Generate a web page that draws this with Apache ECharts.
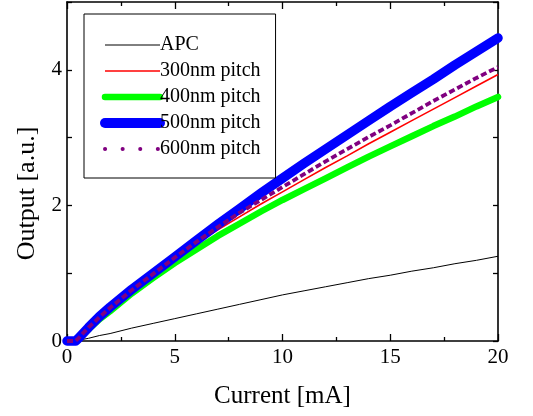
<!DOCTYPE html>
<html>
<head>
<meta charset="utf-8">
<script src="https://cdn.jsdelivr.net/npm/echarts@6/dist/echarts.min.js"></script>
<style>
  html, body { margin: 0; padding: 0; background: #fff; }
  #chart { width: 533px; height: 416px; }
</style>
</head>
<body>
<div id="chart"></div>
<script>
// Drive current [mA]
const current = [0, 0.2, 0.4, 0.5, 1, 1.5, 2, 3, 4, 5, 6, 7, 8, 9, 10, 11, 12, 13, 14, 15, 16, 17, 18, 19, 20];

// Light output [a.u.] for each device
const apc      = [0, 0, 0, 0.01, 0.04, 0.08, 0.11, 0.19, 0.26, 0.33, 0.40, 0.47, 0.54, 0.61, 0.68, 0.74, 0.80, 0.86, 0.92, 0.97, 1.03, 1.08, 1.14, 1.19, 1.25];
const pitch300 = [0, 0, 0, 0.03, 0.19, 0.35, 0.48, 0.74, 0.98, 1.22, 1.44, 1.64, 1.83, 2.02, 2.20, 2.38, 2.56, 2.73, 2.91, 3.08, 3.25, 3.42, 3.59, 3.76, 3.93];
const pitch400 = [0, 0, 0, 0.02, 0.17, 0.32, 0.44, 0.70, 0.93, 1.15, 1.35, 1.55, 1.73, 1.91, 2.08, 2.24, 2.40, 2.56, 2.72, 2.87, 3.02, 3.17, 3.31, 3.46, 3.60];
const pitch500 = [0, 0, 0, 0.03, 0.20, 0.36, 0.50, 0.76, 1.00, 1.24, 1.48, 1.72, 1.95, 2.18, 2.40, 2.62, 2.83, 3.04, 3.25, 3.46, 3.66, 3.86, 4.07, 4.27, 4.47];
const pitch600 = [0, 0, 0, 0.03, 0.20, 0.35, 0.49, 0.75, 0.99, 1.23, 1.46, 1.68, 1.89, 2.08, 2.27, 2.46, 2.65, 2.83, 3.01, 3.18, 3.36, 3.54, 3.71, 3.88, 4.04];

const legendNames = ['APC', '300nm pitch', '400nm pitch', '500nm pitch', '600nm pitch'];
const yTickLabels = ['0', '2', '4'];

const FONT = 'Liberation Serif';
const pair = arr => current.map((c, i) => [c, arr[i]]);

const chart = echarts.init(document.getElementById('chart'), null, { renderer: 'canvas' });

const axisLine = { show: true, onZero: false, lineStyle: { color: '#000', width: 1.6 } };
const tickStyle = { color: '#000', width: 1.3 };

function xAx(pos, main) {
  return {
    type: 'value', position: pos, min: 0, max: 20, interval: 5,
    axisLine: axisLine,
    axisTick: { show: true, inside: true, length: 7, lineStyle: tickStyle },
    minorTick: { show: true, splitNumber: 2, length: 4, lineStyle: tickStyle },
    splitLine: { show: false }, minorSplitLine: { show: false },
    axisLabel: main ? { show: true, color: '#000', fontFamily: FONT, fontSize: 21, margin: 6 } : { show: false },
    name: main ? 'Current [mA]' : '',
    nameLocation: 'middle', nameGap: 43,
    nameTextStyle: { color: '#000', fontFamily: FONT, fontSize: 25 }
  };
}
function yAx(pos, main) {
  return {
    type: 'value', position: pos, min: 0, max: 5, interval: 1,
    axisLine: axisLine,
    axisTick: { show: true, inside: true, length: 5, lineStyle: tickStyle },
    splitLine: { show: false },
    axisLabel: main ? {
      show: true, color: '#000', fontFamily: FONT, fontSize: 21, margin: 5,
      formatter: v => yTickLabels.includes(String(v)) ? String(v) : ''
    } : { show: false },
    name: main ? 'Output [a.u.]' : '',
    nameLocation: 'middle', nameGap: 27, nameRotate: 90,
    nameTextStyle: { color: '#000', fontFamily: FONT, fontSize: 26, padding: [0, 44, 0, 0] }
  };
}

const option = {
  animation: false,
  backgroundColor: '#fff',
  grid: { left: 67, right: 35, top: 2, bottom: 75, containLabel: false },
  xAxis: [xAx('bottom', true), xAx('top', false)],
  yAxis: [yAx('left', true), yAx('right', false)],
  legend: {
    orient: 'vertical',
    left: 84, top: 14,
    padding: [21, 15, 19, 16],
    itemGap: 6,
    itemWidth: 55, itemHeight: 14,
    borderColor: '#000', borderWidth: 1,
    backgroundColor: '#fff',
    itemStyle: { opacity: 0 },
    textStyle: { color: '#000', fontFamily: FONT, fontSize: 20, padding: [0, 0, 0, -5] },
    data: [
      { name: legendNames[0], lineStyle: { width: 1, color: '#000' } },
      { name: legendNames[1], lineStyle: { width: 1.5, color: '#ff0000' } },
      { name: legendNames[2], lineStyle: { width: 6.5, color: '#00ff00', cap: 'round' } },
      { name: legendNames[3], lineStyle: { width: 10, color: '#0000ff', cap: 'round' } },
      { name: legendNames[4], lineStyle: { width: 4, color: '#800080', type: [0.1, 17.5], cap: 'round' } }
    ]
  },
  series: [
    {
      name: legendNames[0], type: 'line', data: pair(apc), showSymbol: false, symbol: 'none',
      itemStyle: { color: '#000' },
      lineStyle: { color: '#000', width: 1 }, clip: false
    },
    {
      name: legendNames[1], type: 'line', data: pair(pitch300), showSymbol: false, symbol: 'none',
      itemStyle: { color: '#ff0000' },
      lineStyle: { color: '#ff0000', width: 1.6 }, clip: false
    },
    {
      name: legendNames[2], type: 'line', data: pair(pitch400), showSymbol: false, symbol: 'none',
      itemStyle: { color: '#00ff00' },
      lineStyle: { color: '#00ff00', width: 6.5, cap: 'round', join: 'round' }, clip: false
    },
    {
      name: legendNames[3], type: 'line', data: pair(pitch500), showSymbol: false, symbol: 'none',
      itemStyle: { color: '#0000ff' },
      lineStyle: { color: '#0000ff', width: 9.5, cap: 'round', join: 'round' }, clip: false
    },
    {
      name: legendNames[4], type: 'line', data: pair(pitch600), showSymbol: false, symbol: 'none',
      itemStyle: { color: '#800080' },
      lineStyle: { color: '#800080', width: 3.8, type: [6, 3], join: 'round' }, clip: false
    }
  ]
};

chart.setOption(option);
</script>
</body>
</html>
